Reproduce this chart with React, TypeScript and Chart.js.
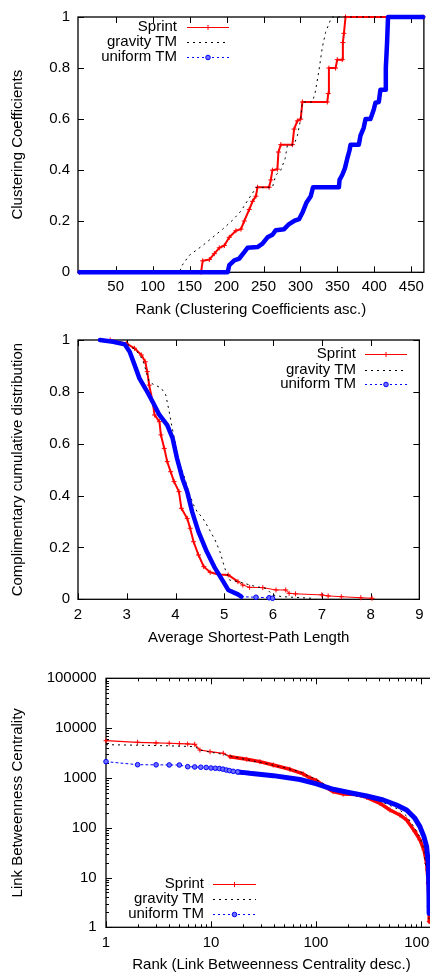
import React, { useEffect, useRef } from "react";
import { Chart, registerables } from "chart.js";

Chart.register(...registerables);

const FONT_FAMILY = '"Liberation Sans", Arial, Helvetica, sans-serif';
const RED = "rgb(255,0,0)";
const BLACK = "#000000";
const BLUE = "rgb(0,0,255)";
const BLUE_FILL = "rgb(110,110,255)";

const SERIES_NAMES = ["Sprint", "gravity TM", "uniform TM"];

// ---------------- Panel 1: clustering coefficients ----------------
const CC_X_TITLE = "Rank (Clustering Coefficients asc.)";
const CC_Y_TITLE = "Clustering Coefficients";
const CC_X_TICKS = [50, 100, 150, 200, 250, 300, 350, 400, 450];
const CC_Y_TICKS = [0, 0.2, 0.4, 0.6, 0.8, 1];
const CC_SPRINT: number[][] = [
  [1, 0], [165.5, 0], [167.7, 0.045], [176.7, 0.05], [183.5, 0.073], [190.2, 0.096],
  [197, 0.105], [203.7, 0.137], [212.7, 0.163], [219.5, 0.169], [224, 0.201],
  [230.7, 0.246], [235.2, 0.278], [239.7, 0.298], [241.9, 0.333], [257.6, 0.333],
  [259.9, 0.362], [262.1, 0.4], [268.8, 0.404], [270.2, 0.471], [273.4, 0.5],
  [289.1, 0.5], [291.4, 0.561], [295.8, 0.593], [300.3, 0.6], [302.6, 0.667],
  [336.3, 0.667], [337.6, 0.7], [338.5, 0.8], [347.5, 0.8], [349.8, 0.833],
  [356.5, 0.833], [357.4, 0.9], [358.8, 0.936], [361, 1], [466, 1],
];
const CC_GRAVITY: number[][] = [
  [1, 0], [137, 0], [138.6, 0.022], [149.8, 0.067], [158.8, 0.086], [167.7, 0.105],
  [181.2, 0.137], [194.7, 0.169], [208.2, 0.204], [219.5, 0.24], [230.7, 0.291],
  [240.5, 0.333], [262.1, 0.333], [266.7, 0.381], [273.4, 0.4], [279.2, 0.445],
  [282.3, 0.497], [291.3, 0.5], [295.8, 0.535], [300.3, 0.6], [302.6, 0.667],
  [316, 0.667], [319.7, 0.7], [325, 0.79], [329.5, 0.88], [334, 0.94],
  [340.8, 0.99], [343, 1], [466, 1],
];
const CC_UNIFORM: number[][] = [
  [1, 0], [201.5, 0], [203.7, 0.028], [210.5, 0.047], [217.2, 0.054], [224, 0.079],
  [228.4, 0.096], [241.9, 0.099], [248.6, 0.112], [255.4, 0.137], [262.1, 0.147],
  [266.7, 0.165], [277.9, 0.169], [284.6, 0.189], [291.4, 0.201], [298.1, 0.208],
  [302.6, 0.233], [308, 0.272], [313.9, 0.298], [317, 0.333], [352, 0.333],
  [352.9, 0.362], [356.5, 0.381], [360.1, 0.407], [363.3, 0.445], [366.4, 0.478],
  [367.8, 0.5], [379, 0.5], [381.2, 0.535], [385.7, 0.567], [388, 0.6],
  [394.7, 0.6], [399.2, 0.638], [401.5, 0.664], [406, 0.667], [408.2, 0.715],
  [415, 0.715], [415.5, 0.8], [417.2, 0.9], [418.5, 1], [466, 1],
];

// ---------------- Panel 2: average shortest-path length ----------------
const ASP_X_TITLE = "Average Shortest-Path Length";
const ASP_Y_TITLE = "Complimentary cumulative distribution";
const ASP_X_TICKS = [2, 3, 4, 5, 6, 7, 8, 9];
const ASP_Y_TICKS = [0, 0.2, 0.4, 0.6, 0.8, 1];
const ASP_SPRINT: number[][] = [
  [2.66, 1.0], [2.99, 0.987], [3.16, 0.968], [3.3, 0.942], [3.38, 0.916],
  [3.42, 0.878], [3.46, 0.826], [3.53, 0.762], [3.57, 0.711], [3.67, 0.685],
  [3.7, 0.634], [3.77, 0.582], [3.83, 0.531], [3.9, 0.492], [3.97, 0.454],
  [4.07, 0.415], [4.12, 0.351], [4.24, 0.312], [4.3, 0.274], [4.37, 0.222],
  [4.47, 0.171], [4.58, 0.126], [4.71, 0.104], [4.88, 0.096], [5.08, 0.094],
  [5.28, 0.068], [5.38, 0.055], [5.52, 0.046], [5.79, 0.045], [6.06, 0.036],
  [6.26, 0.036], [6.33, 0.023], [6.46, 0.021], [7.0, 0.017], [7.13, 0.013],
  [7.4, 0.01], [7.8, 0.006], [8.03, 0.004],
];
const ASP_GRAVITY: number[][] = [
  [2.66, 1.0], [2.99, 0.987], [3.19, 0.961], [3.33, 0.923], [3.4, 0.878],
  [3.46, 0.839], [3.57, 0.826], [3.7, 0.816], [3.8, 0.788], [3.87, 0.724],
  [3.92, 0.672], [3.99, 0.608], [4.07, 0.531], [4.17, 0.479], [4.27, 0.415],
  [4.37, 0.364], [4.46, 0.332], [4.54, 0.319], [4.68, 0.274], [4.81, 0.229],
  [4.91, 0.184], [5.01, 0.12], [5.11, 0.074], [5.28, 0.068], [5.65, 0.049],
  [5.86, 0.042], [5.99, 0.017], [6.19, 0.01], [6.8, 0.004], [6.87, 0],
];
const ASP_UNIFORM: number[][] = [
  [2.45, 1.0], [2.72, 0.993], [2.96, 0.983], [3.06, 0.955], [3.16, 0.904],
  [3.26, 0.852], [3.4, 0.807], [3.53, 0.762], [3.67, 0.711], [3.83, 0.672],
  [3.94, 0.621], [4.03, 0.544], [4.14, 0.467], [4.24, 0.415], [4.34, 0.338],
  [4.47, 0.261], [4.64, 0.184], [4.81, 0.12], [4.98, 0.068], [5.08, 0.036],
  [5.28, 0.019], [5.35, 0.01], [5.65, 0.008], [5.92, 0.006], [5.99, 0.004],
];

// ---------------- Panel 3: link betweenness centrality ----------------
const LBC_X_TITLE = "Rank (Link Betweenness Centrality desc.)";
const LBC_Y_TITLE = "Link Betweenness Centrality";
const LBC_X_TICKS = [1, 10, 100, 1000];
const LBC_Y_TICKS = [1, 10, 100, 1000, 10000, 100000];
const LBC_SPRINT: number[][] = [
  [1, 5580], [2, 5190], [3, 5030], [4, 4960], [5, 4880], [6, 4800], [7, 4730],
  [7.85, 3630], [9.8, 3360], [13.1, 3120], [15.2, 2670], [21.9, 2360], [29.2, 2120],
  [39.2, 1815], [56.5, 1487], [75.5, 1200], [88, 1000], [101.5, 880], [120, 680],
  [146, 530], [182, 475], [244, 462], [304, 408], [407, 309], [507, 227],
  [631, 180], [731, 143], [877, 83], [978, 57], [1068, 36], [1133, 19.3],
  [1175, 7.7], [1197, 2.6], [1200, 1.3],
];
const LBC_GRAVITY: number[][] = [
  [1, 4640], [2, 4540], [4, 4400], [7, 4240], [7.85, 3630], [9.8, 3300],
  [14.1, 2880], [18.9, 2470], [29.2, 2060], [45.4, 1680], [70.5, 1334],
  [101.5, 908], [150, 590], [200, 490], [300, 430], [407, 340], [507, 280],
  [631, 227], [731, 170], [877, 97], [978, 65], [1068, 36], [1133, 12],
  [1175, 3.5], [1195, 1.2],
];
const LBC_UNIFORM: number[][] = [
  [1, 2120], [2, 1840], [3, 1830], [4, 1820], [5, 1815], [6, 1680], [7, 1660],
  [8, 1640], [9, 1620], [10, 1580], [11, 1560], [12, 1540], [13, 1500], [14, 1440],
  [15, 1400], [16.3, 1355], [18, 1320], [20, 1290], [23.4, 1236], [39.2, 1110],
  [70.5, 930], [101.5, 760], [146, 590], [211, 505], [304, 433], [438, 360],
  [586, 286], [731, 227], [877, 154], [978, 105], [1068, 66], [1133, 41.5],
  [1175, 19], [1191, 5.6], [1197, 1.9],
];

// ---------------- drawing helpers ----------------
const LEGEND_ITEMS = [
  { label: SERIES_NAMES[0], color: RED, dash: [] as number[], marker: "cross" },
  { label: SERIES_NAMES[1], color: BLACK, dash: [2, 4], marker: "" },
  { label: SERIES_NAMES[2], color: BLUE, dash: [2, 3], marker: "circle" },
];

function logMinors(min: number, max: number): number[] {
  const out: number[] = [];
  for (let e = Math.floor(Math.log10(min)); e <= Math.ceil(Math.log10(max)); e++) {
    for (let k = 2; k <= 9; k++) {
      const v = k * Math.pow(10, e);
      if (v > min && v < max) out.push(v);
    }
  }
  return out;
}

const framePlugin = {
  id: "gnuFrame",
  beforeDatasetsDraw(chart: any) {
    const { ctx, chartArea: a } = chart;
    const xs = chart.scales.x;
    const ys = chart.scales.y;
    const major = 6;
    const minor = 3;
    ctx.save();
    ctx.strokeStyle = "#000";
    ctx.lineWidth = 1;
    ctx.beginPath();
    const vx = (v: number, len: number) => {
      const p = Math.round(xs.getPixelForValue(v)) + 0.5;
      ctx.moveTo(p, a.bottom);
      ctx.lineTo(p, a.bottom - len);
      ctx.moveTo(p, a.top);
      ctx.lineTo(p, a.top + len);
    };
    const hy = (v: number, len: number) => {
      const p = Math.round(ys.getPixelForValue(v)) + 0.5;
      ctx.moveTo(a.left, p);
      ctx.lineTo(a.left + len, p);
      ctx.moveTo(a.right, p);
      ctx.lineTo(a.right - len, p);
    };
    xs.ticks.forEach((t: any) => vx(t.value, major));
    ys.ticks.forEach((t: any) => hy(t.value, major));
    if (xs.type === "logarithmic") logMinors(xs.min, xs.max).forEach((v) => vx(v, minor));
    if (ys.type === "logarithmic") logMinors(ys.min, ys.max).forEach((v) => hy(v, minor));
    ctx.stroke();
    ctx.lineWidth = 1.3;
    ctx.strokeRect(a.left, a.top, a.right - a.left, a.bottom - a.top);
    ctx.restore();
  },
};

const legendPlugin = {
  id: "gnuLegend",
  afterDatasetsDraw(chart: any, _args: any, o: any) {
    if (!o || !o.rows) return;
    const ctx = chart.ctx;
    ctx.save();
    ctx.font = `15px ${FONT_FAMILY}`;
    ctx.textAlign = "right";
    ctx.textBaseline = "middle";
    LEGEND_ITEMS.forEach((it, i) => {
      const y = o.rows[i];
      ctx.fillStyle = "#000";
      ctx.fillText(it.label, o.textRight, y);
      ctx.beginPath();
      ctx.strokeStyle = it.color;
      ctx.lineWidth = 1;
      ctx.setLineDash(it.dash);
      ctx.moveTo(o.x1, Math.round(y) + 0.5);
      ctx.lineTo(o.x2, Math.round(y) + 0.5);
      ctx.stroke();
      ctx.setLineDash([]);
      const mx = (o.x1 + o.x2) / 2;
      const my = Math.round(y) + 0.5;
      if (it.marker === "cross") {
        ctx.beginPath();
        ctx.moveTo(mx - 2.5, my);
        ctx.lineTo(mx + 2.5, my);
        ctx.moveTo(mx, my - 2.5);
        ctx.lineTo(mx, my + 2.5);
        ctx.stroke();
      } else if (it.marker === "circle") {
        ctx.beginPath();
        ctx.arc(mx, my, 2.3, 0, Math.PI * 2);
        ctx.fillStyle = BLUE_FILL;
        ctx.fill();
        ctx.stroke();
      }
    });
    ctx.restore();
  },
};

interface PanelSpec {
  width: number;
  height: number;
  area: { left: number; top: number; right: number; bottom: number };
  xType: string;
  yType: string;
  xMin: number;
  xMax: number;
  yMin: number;
  yMax: number;
  xTicks: number[];
  yTicks: number[];
  xTitle: string;
  yTitle: string;
  xTickPad: number;
  yTickPad: number;
  xTitlePad: number;
  yTitlePad: number;
  legend: any;
  datasets: any[];
}

function buildChart(canvas: HTMLCanvasElement, p: PanelSpec) {
  const tickFont = { family: FONT_FAMILY, size: 15, lineHeight: 1.2 };
  const titleFont = { family: FONT_FAMILY, size: 15, lineHeight: 1 };
  return new Chart(canvas, {
    type: "scatter",
    data: { datasets: p.datasets },
    options: {
      responsive: false,
      animation: false,
      devicePixelRatio: 1,
      events: [],
      layout: {
        autoPadding: false,
        padding: { top: p.area.top, right: p.width - p.area.right, left: 0, bottom: 0 },
      },
      plugins: {
        legend: { display: false },
        tooltip: { enabled: false },
        gnuLegend: p.legend,
      },
      scales: {
        x: {
          type: p.xType,
          position: "bottom",
          min: p.xMin,
          max: p.xMax,
          grid: { display: false, drawTicks: false },
          border: { display: false },
          ticks: {
            font: tickFont,
            color: "#000",
            padding: p.xTickPad,
            autoSkip: false,
            maxRotation: 0,
            callback: (v: any) => String(v),
          },
          title: {
            display: true,
            text: p.xTitle,
            font: titleFont,
            color: "#000",
            padding: { top: 0, bottom: p.xTitlePad },
          },
          afterBuildTicks: (s: any) => {
            s.ticks = p.xTicks.map((v) => ({ value: v }));
          },
          afterFit: (s: any) => {
            s.height = p.height - p.area.bottom;
          },
        },
        y: {
          type: p.yType,
          position: "left",
          min: p.yMin,
          max: p.yMax,
          grid: { display: false, drawTicks: false },
          border: { display: false },
          ticks: {
            font: tickFont,
            color: "#000",
            padding: p.yTickPad,
            autoSkip: false,
            callback: (v: any) => String(v),
          },
          title: {
            display: true,
            text: p.yTitle,
            font: titleFont,
            color: "#000",
            padding: { top: p.yTitlePad, bottom: 0 },
          },
          afterBuildTicks: (s: any) => {
            s.ticks = p.yTicks.map((v) => ({ value: v }));
          },
          afterFit: (s: any) => {
            s.width = p.area.left;
          },
        },
      },
    } as any,
    plugins: [framePlugin, legendPlugin],
  } as any);
}

function baseDataset(label: string, data: number[][], order: number) {
  return {
    label,
    data,
    order,
    showLine: true,
    tension: 0,
    clip: false,
    borderCapStyle: "round",
    borderJoinStyle: "round",
  };
}

const PANEL1: PanelSpec = {
  width: 430,
  height: 320,
  area: { left: 78, top: 12.7, right: 425.3, bottom: 272.3 },
  xType: "linear",
  yType: "linear",
  xMin: -1,
  xMax: 467,
  yMin: 0,
  yMax: 1,
  xTicks: CC_X_TICKS,
  yTicks: CC_Y_TICKS,
  xTitle: CC_X_TITLE,
  yTitle: CC_Y_TITLE,
  xTickPad: 6,
  yTickPad: 8,
  xTitlePad: 2.5,
  yTitlePad: 10.5,
  legend: { textRight: 177, rows: [26.5, 41.5, 56.5], x1: 187, x2: 229 },
  datasets: [
    {
      ...baseDataset(SERIES_NAMES[0], CC_SPRINT, 2),
      borderColor: RED,
      borderWidth: 2,
      pointStyle: "cross",
      pointRadius: 2.5,
      pointBorderColor: RED,
      pointBorderWidth: 1,
    },
    {
      ...baseDataset(SERIES_NAMES[1], CC_GRAVITY, 1),
      borderColor: BLACK,
      borderWidth: 1,
      borderDash: [2, 4],
      borderCapStyle: "butt",
      pointRadius: 0,
    },
    {
      ...baseDataset(SERIES_NAMES[2], CC_UNIFORM, 0),
      borderColor: BLUE,
      borderWidth: 4.5,
      pointRadius: 0,
    },
  ],
};

const ASP_SPARSE_FROM = 5.35;
const PANEL2: PanelSpec = {
  width: 430,
  height: 330,
  area: { left: 78, top: 20, right: 425.3, bottom: 279.3 },
  xType: "linear",
  yType: "linear",
  xMin: 2,
  xMax: 9,
  yMin: 0,
  yMax: 1,
  xTicks: ASP_X_TICKS,
  yTicks: ASP_Y_TICKS,
  xTitle: ASP_X_TITLE,
  yTitle: ASP_Y_TITLE,
  xTickPad: 6.5,
  yTickPad: 8,
  xTitlePad: 4.5,
  yTitlePad: 10.5,
  legend: { textRight: 356, rows: [34, 49.5, 64], x1: 365, x2: 407 },
  datasets: [
    {
      ...baseDataset(SERIES_NAMES[0], ASP_SPRINT, 2),
      borderColor: RED,
      borderWidth: 2,
      segment: {
        borderWidth: (c: any) => (ASP_SPRINT[c.p0DataIndex][0] >= 5.28 ? 1 : 2),
      },
      pointStyle: "cross",
      pointRadius: 2.5,
      pointBorderColor: RED,
      pointBorderWidth: 1,
    },
    {
      ...baseDataset(SERIES_NAMES[1], ASP_GRAVITY, 1),
      borderColor: BLACK,
      borderWidth: 1,
      borderDash: [2, 4],
      borderCapStyle: "butt",
      pointRadius: 0,
    },
    {
      ...baseDataset(SERIES_NAMES[2], ASP_UNIFORM, 0),
      borderColor: BLUE,
      borderWidth: 4.5,
      segment: {
        borderWidth: (c: any) => (ASP_UNIFORM[c.p0DataIndex][0] >= ASP_SPARSE_FROM ? 1 : 4.5),
        borderDash: (c: any) => (ASP_UNIFORM[c.p0DataIndex][0] >= ASP_SPARSE_FROM ? [2, 3] : []),
      },
      pointStyle: "circle",
      pointRadius: (c: any) => (ASP_UNIFORM[c.dataIndex][0] > ASP_SPARSE_FROM ? 2.3 : 0),
      pointBackgroundColor: BLUE_FILL,
      pointBorderColor: BLUE,
      pointBorderWidth: 1,
    },
  ],
};

const LBC_BAND_RED = 14;
const LBC_BAND_BLUE = 18;
const PANEL3: PanelSpec = {
  width: 445,
  height: 323,
  area: { left: 106, top: 28.3, right: 437, bottom: 277.3 },
  xType: "logarithmic",
  yType: "logarithmic",
  xMin: 1,
  xMax: 1420,
  yMin: 1,
  yMax: 100000,
  xTicks: LBC_X_TICKS,
  yTicks: LBC_Y_TICKS,
  xTitle: LBC_X_TITLE,
  yTitle: LBC_Y_TITLE,
  xTickPad: 7,
  yTickPad: 9.3,
  xTitlePad: 0.5,
  yTitlePad: 10.5,
  legend: { textRight: 204, rows: [233.5, 249, 263.5], x1: 213, x2: 256 },
  datasets: [
    {
      ...baseDataset(SERIES_NAMES[0], LBC_SPRINT, 2),
      borderColor: RED,
      borderWidth: 1.2,
      segment: {
        borderWidth: (c: any) => (LBC_SPRINT[c.p0DataIndex][0] >= LBC_BAND_RED ? 3.5 : 1.2),
      },
      pointStyle: "cross",
      pointRadius: 2.5,
      pointBorderColor: RED,
      pointBorderWidth: 1,
    },
    {
      ...baseDataset(SERIES_NAMES[1], LBC_GRAVITY, 1),
      borderColor: BLACK,
      borderWidth: 1,
      borderDash: [2, 4],
      borderCapStyle: "butt",
      pointRadius: 0,
    },
    {
      ...baseDataset(SERIES_NAMES[2], LBC_UNIFORM, 0),
      borderColor: BLUE,
      borderWidth: 1,
      segment: {
        borderWidth: (c: any) => (LBC_UNIFORM[c.p0DataIndex][0] >= LBC_BAND_BLUE ? 5 : 1),
        borderDash: (c: any) => (LBC_UNIFORM[c.p0DataIndex][0] >= LBC_BAND_BLUE ? [] : [2, 3]),
      },
      pointStyle: "circle",
      pointRadius: (c: any) => (LBC_UNIFORM[c.dataIndex][0] <= LBC_BAND_BLUE ? 2.3 : 0),
      pointBackgroundColor: BLUE_FILL,
      pointBorderColor: BLUE,
      pointBorderWidth: 1,
    },
  ],
};

function Panel({ spec, top }: { spec: PanelSpec; top: number }) {
  const ref = useRef<HTMLCanvasElement | null>(null);
  useEffect(() => {
    if (!ref.current) return;
    const chart = buildChart(ref.current, spec);
    return () => chart.destroy();
  }, [spec]);
  return (
    <canvas
      ref={ref}
      width={spec.width}
      height={spec.height}
      style={{
        position: "absolute",
        left: 0,
        top,
        width: spec.width,
        height: spec.height,
        display: "block",
      }}
    />
  );
}

export default function App() {
  return (
    <div
      style={{
        position: "absolute",
        left: 0,
        top: 0,
        width: 430,
        height: 973,
        overflow: "hidden",
        background: "#ffffff",
      }}
    >
      <Panel spec={PANEL1} top={0} />
      <Panel spec={PANEL2} top={320} />
      <Panel spec={PANEL3} top={650} />
    </div>
  );
}
